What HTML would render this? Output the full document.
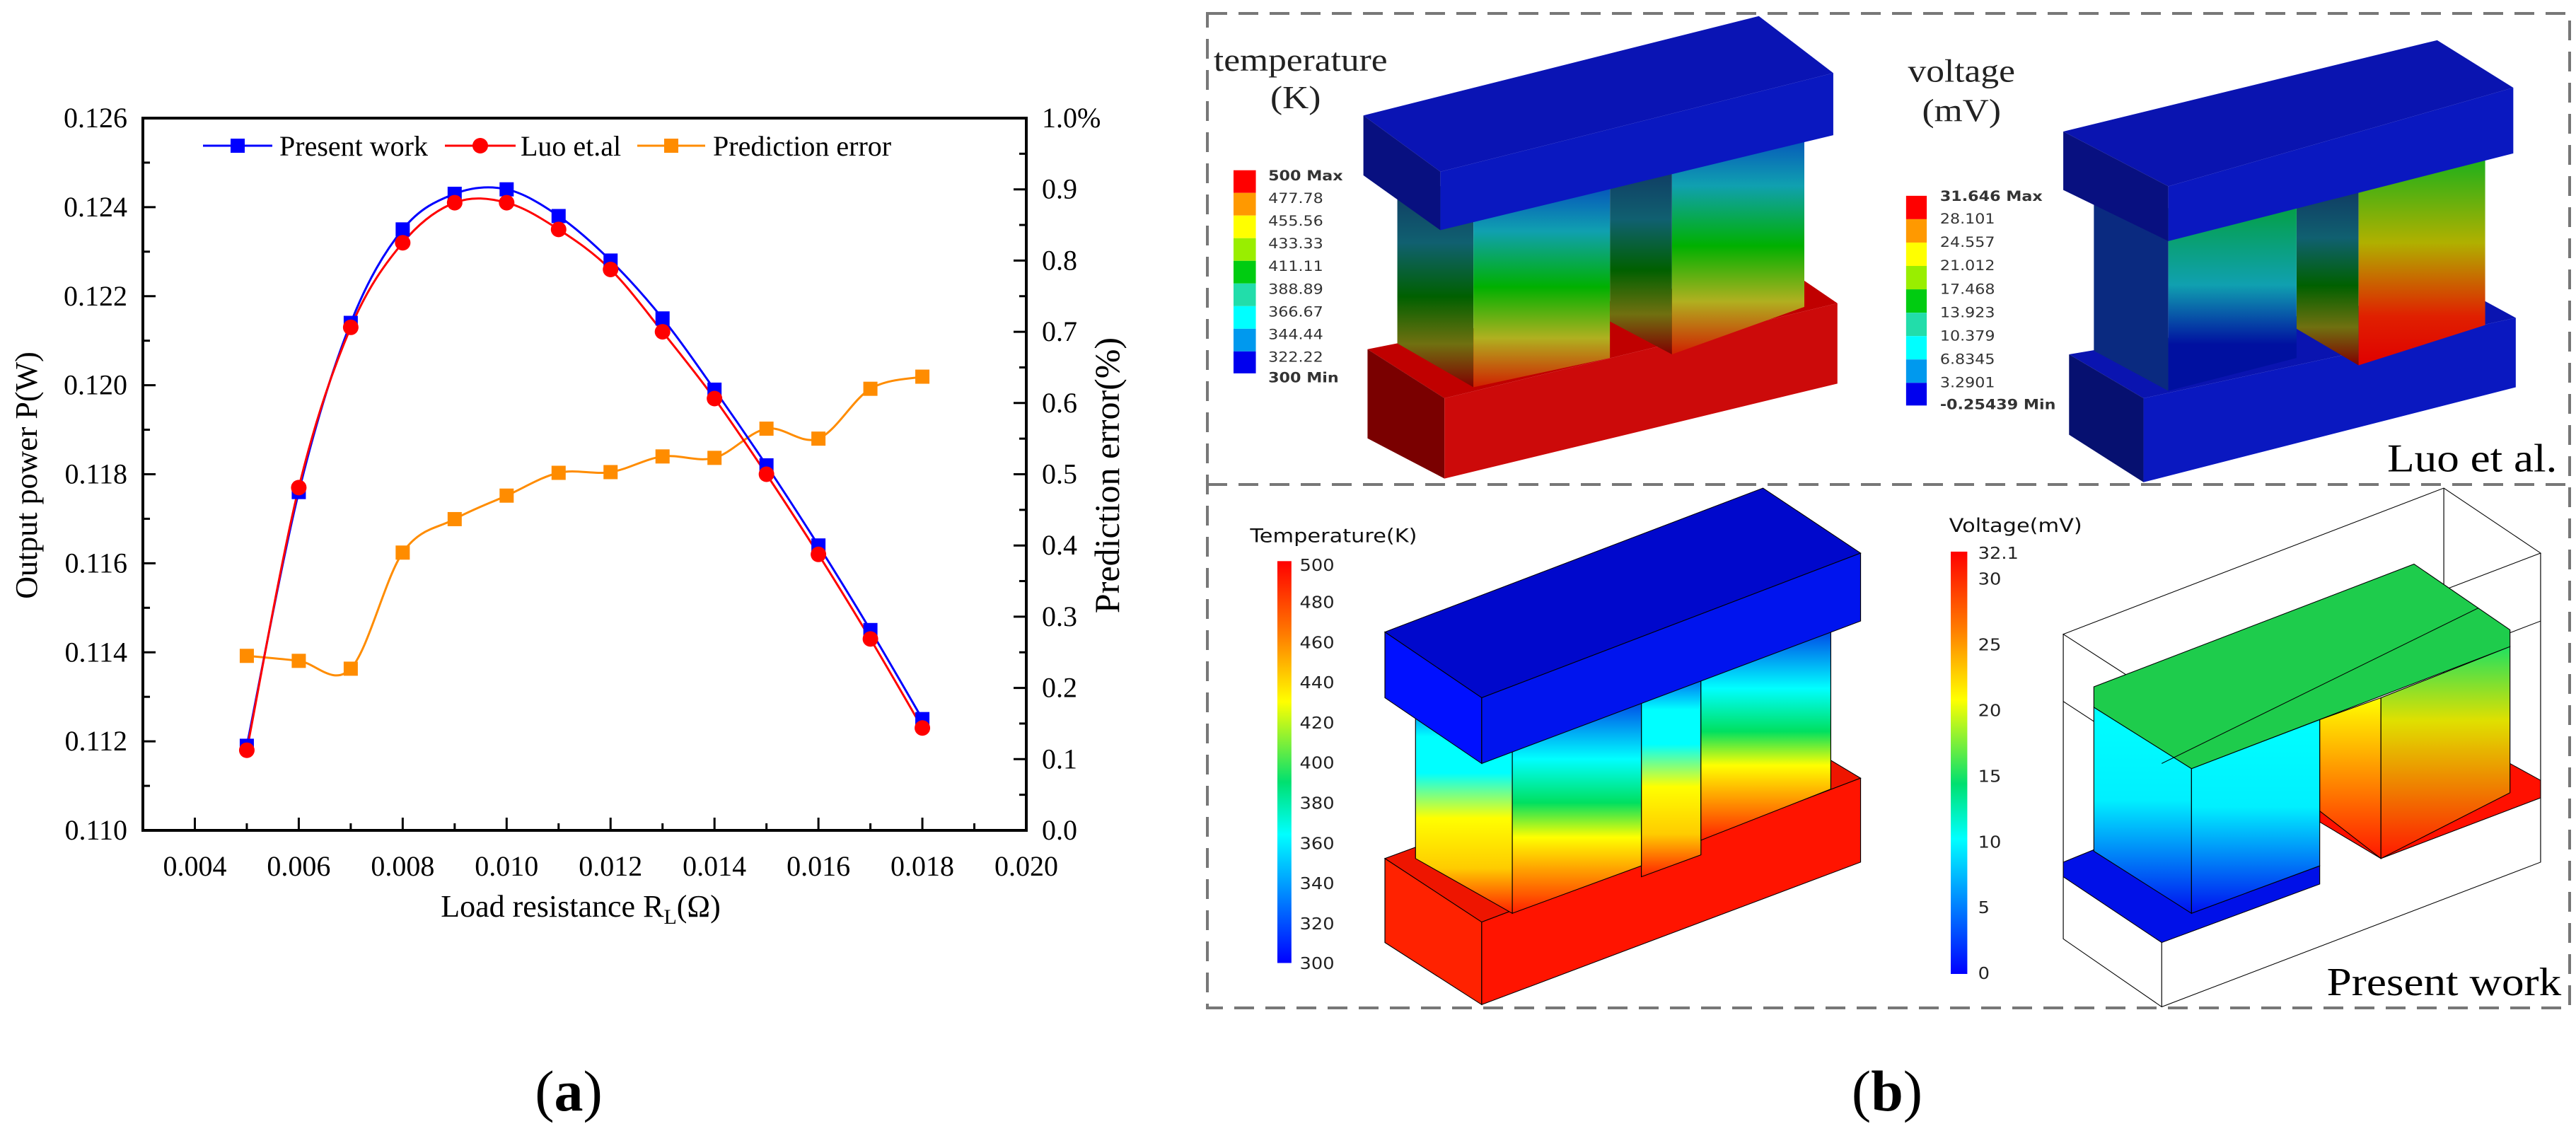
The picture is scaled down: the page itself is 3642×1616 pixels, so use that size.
<!DOCTYPE html>
<html><head><meta charset="utf-8"><style>
html,body{margin:0;padding:0;background:#fff;}
svg{display:block;}
.serif{font-family:"Liberation Serif",serif;}
.sans{font-family:"DejaVu Sans","Liberation Sans",sans-serif;}
</style></head><body>
<svg id="fig" width="3642" height="1616" viewBox="0 0 3642 1616" xmlns="http://www.w3.org/2000/svg">
<defs>
<linearGradient id="gJetT" x1="0" y1="0" x2="0" y2="1"><stop offset="0" stop-color="#ff0000"/><stop offset="0.18" stop-color="#ff7a00"/><stop offset="0.35" stop-color="#ffff00"/><stop offset="0.55" stop-color="#00e070"/><stop offset="0.68" stop-color="#00ffff"/><stop offset="0.84" stop-color="#0080ff"/><stop offset="1" stop-color="#0000ff"/></linearGradient>
<linearGradient id="gLegP" x1="0" y1="0" x2="0" y2="1"><stop offset="0" stop-color="#0022ee"/><stop offset="0.22" stop-color="#00ffff"/><stop offset="0.38" stop-color="#00ffff"/><stop offset="0.58" stop-color="#ffff00"/><stop offset="0.8" stop-color="#ffcc00"/><stop offset="1" stop-color="#ff2000"/></linearGradient>
<linearGradient id="gLegP2" x1="0" y1="0" x2="0" y2="1"><stop offset="0" stop-color="#0010e0"/><stop offset="0.33" stop-color="#00ffff"/><stop offset="0.52" stop-color="#00e060"/><stop offset="0.67" stop-color="#ffff00"/><stop offset="1" stop-color="#ff2000"/></linearGradient>
<linearGradient id="gLegL" x1="0" y1="0" x2="0" y2="1"><stop offset="0" stop-color="#0030c0"/><stop offset="0.3" stop-color="#10a0b0"/><stop offset="0.55" stop-color="#00b000"/><stop offset="0.78" stop-color="#b0b020"/><stop offset="1" stop-color="#d02000"/></linearGradient>
<linearGradient id="gLegLd" x1="0" y1="0" x2="0" y2="1"><stop offset="0" stop-color="#103060"/><stop offset="0.33" stop-color="#106070"/><stop offset="0.58" stop-color="#006000"/><stop offset="0.8" stop-color="#707010"/><stop offset="1" stop-color="#800000"/></linearGradient>
<linearGradient id="gVL" x1="0" y1="0" x2="0" y2="1"><stop offset="0" stop-color="#00a020"/><stop offset="0.5" stop-color="#10a0b0"/><stop offset="0.78" stop-color="#0010a0"/><stop offset="1" stop-color="#0010a0"/></linearGradient>
<linearGradient id="gVR" x1="0" y1="0" x2="0" y2="1"><stop offset="0" stop-color="#00b020"/><stop offset="0.45" stop-color="#b0b000"/><stop offset="0.78" stop-color="#e02000"/><stop offset="1" stop-color="#e00000"/></linearGradient>
<linearGradient id="gVPL" x1="0" y1="0" x2="0" y2="1"><stop offset="0" stop-color="#00ffff"/><stop offset="0.45" stop-color="#00f0ff"/><stop offset="1" stop-color="#0010f0"/></linearGradient>
<linearGradient id="gVPR" x1="0" y1="0" x2="0" y2="1"><stop offset="0" stop-color="#20e060"/><stop offset="0.35" stop-color="#e0e000"/><stop offset="1" stop-color="#ff1800"/></linearGradient>
<linearGradient id="gVPI" x1="0" y1="0" x2="0" y2="1"><stop offset="0" stop-color="#ffff00"/><stop offset="1" stop-color="#ff1800"/></linearGradient>
</defs>

<g id="chart"></g>
<text class="serif" x="804" y="1570" font-size="82" text-anchor="middle">(<tspan font-weight="bold">a</tspan>)</text>

<g>
<rect x="1707" y="19" width="1926" height="1406" fill="none" stroke="#777" stroke-width="4" stroke-dasharray="28,16"/>
<line x1="1707" y1="685" x2="3633" y2="685" stroke="#777" stroke-width="4" stroke-dasharray="28,16"/>
<g transform="matrix(1.1696,0,0,1.033,1820,0)">
 <g>
  <text class="serif" x="-89" y="97" font-size="44" fill="#222">temperature</text>
  <text class="serif" x="10" y="148" font-size="44" text-anchor="middle" fill="#222">(K)</text>
  <rect x="-65" y="233" width="27" height="31" fill="#ff0000"/><rect x="-65" y="264" width="27" height="31" fill="#ff9900"/>
  <rect x="-65" y="295" width="27" height="31" fill="#ffff00"/><rect x="-65" y="326" width="27" height="31" fill="#99ee00"/>
  <rect x="-65" y="357" width="27" height="31" fill="#00cc11"/><rect x="-65" y="388" width="27" height="31" fill="#22ddaa"/>
  <rect x="-65" y="419" width="27" height="31" fill="#00ffff"/><rect x="-65" y="450" width="27" height="31" fill="#0099ee"/>
  <rect x="-65" y="481" width="27" height="30" fill="#0000ee"/>
  <g class="sans" font-size="19" fill="#333">
   <text x="-23" y="247" font-weight="bold">500 Max</text><text x="-23" y="278">477.78</text><text x="-23" y="309">455.56</text><text x="-23" y="340">433.33</text><text x="-23" y="371">411.11</text><text x="-23" y="402">388.89</text><text x="-23" y="433">366.67</text><text x="-23" y="464">344.44</text><text x="-23" y="495">322.22</text><text x="-23" y="523" font-weight="bold">300 Min</text>
  </g>
 </g>
 <g>
  <polygon points="97,478 600,365 665,415 190,545" fill="#c00000"/>
  <polygon points="97,478 190,545 190,655 97,600" fill="#7a0000"/>
  <polygon points="190,545 665,415 665,525 190,655" fill="#cc0a0a"/>
  <polygon points="390,235 465,210 465,485 390,440" fill="url(#gLegLd)"/>
  <polygon points="465,210 625,155 625,420 465,485" fill="url(#gLegL)"/>
  <polygon points="133,235 225,270 225,530 133,470" fill="url(#gLegLd)"/>
  <polygon points="225,270 390,225 390,490 225,530" fill="url(#gLegL)"/>
  <polygon points="92,158 570,22 660,100 185,235" fill="#0a14b4"/>
  <polygon points="92,158 185,235 185,315 92,240" fill="#081080"/>
  <polygon points="185,235 660,100 660,185 185,315" fill="#0a18c0"/>
 </g>
 <g>
  <text class="serif" x="815" y="112" font-size="44" text-anchor="middle" fill="#222">voltage</text>
  <text class="serif" x="815" y="166" font-size="44" text-anchor="middle" fill="#222">(mV)</text>
  <rect x="748" y="268" width="25" height="32" fill="#ff0000"/><rect x="748" y="300" width="25" height="32" fill="#ff9900"/>
  <rect x="748" y="332" width="25" height="32" fill="#ffff00"/><rect x="748" y="364" width="25" height="32" fill="#99ee00"/>
  <rect x="748" y="396" width="25" height="32" fill="#00cc11"/><rect x="748" y="428" width="25" height="32" fill="#22ddaa"/>
  <rect x="748" y="460" width="25" height="32" fill="#00ffff"/><rect x="748" y="492" width="25" height="32" fill="#0099ee"/>
  <rect x="748" y="524" width="25" height="31" fill="#0000ee"/>
  <g class="sans" font-size="19" fill="#333">
   <text x="789" y="275" font-weight="bold">31.646 Max</text><text x="789" y="306">28.101</text><text x="789" y="338">24.557</text><text x="789" y="370">21.012</text><text x="789" y="402">17.468</text><text x="789" y="434">13.923</text><text x="789" y="466">10.379</text><text x="789" y="498">6.8345</text><text x="789" y="530">3.2901</text><text x="789" y="560" font-weight="bold">-0.25439 Min</text>
  </g>
 </g>
 <g>
  <polygon points="945,485 1420,395 1485,435 1035,545" fill="#0a14b0"/>
  <polygon points="945,485 1035,545 1035,660 945,595" fill="#061070"/>
  <polygon points="1035,545 1485,435 1485,530 1035,660" fill="#0a18c0"/>
  <polygon points="1220,260 1295,240 1295,500 1220,450" fill="url(#gLegLd)"/>
  <polygon points="1295,240 1448,195 1448,445 1295,500" fill="url(#gVR)"/>
  <polygon points="975,250 1065,285 1065,535 975,480" fill="#0a2a80"/>
  <polygon points="1065,285 1220,245 1220,490 1065,535" fill="url(#gVL)"/>
  <polygon points="938,180 1390,55 1482,120 1065,255" fill="#0a14b0"/>
  <polygon points="938,180 1065,255 1065,330 938,260" fill="#081080"/>
  <polygon points="1065,255 1482,120 1482,210 1065,330" fill="#0a18c0"/>
 </g>
 <text class="serif" x="1535" y="645" font-size="54" text-anchor="end" fill="#000">Luo et al.</text>

 <g>
  <text class="sans" x="-45" y="742" font-size="26" fill="#111">Temperature(K)</text>
  <rect x="-12" y="768" width="17" height="550" fill="url(#gJetT)"/>
  <g class="sans" font-size="22" fill="#222">
   <text x="15" y="781">500</text><text x="15" y="832">480</text><text x="15" y="887">460</text><text x="15" y="942">440</text><text x="15" y="997">420</text><text x="15" y="1052">400</text><text x="15" y="1107">380</text><text x="15" y="1162">360</text><text x="15" y="1217">340</text><text x="15" y="1272">320</text><text x="15" y="1326">300</text>
  </g>
 </g>
 <g stroke="#000" stroke-width="1">
  <polygon points="118,1175 575,985 693,1065 235,1262" fill="#ee1500"/>
  <polygon points="118,1175 235,1262 235,1375 118,1290" fill="#ff2200"/>
  <polygon points="235,1262 693,1065 693,1180 235,1375" fill="#ff1400"/>
  <polygon points="428,937 500,907 500,1170 428,1200" fill="url(#gLegP)"/>
  <polygon points="500,907 657,840 657,1080 500,1150" fill="url(#gLegP2)"/>
  <polygon points="155,940 272,1003 272,1250 155,1175" fill="url(#gLegP)"/>
  <polygon points="272,1003 428,935 428,1185 272,1250" fill="url(#gLegP2)"/>
  <polygon points="118,865 575,668 693,757 235,955" fill="#0008cc"/>
  <polygon points="118,865 235,955 235,1045 118,955" fill="#0010ff"/>
  <polygon points="235,955 693,757 693,850 235,1045" fill="#0014ee"/>
 </g>
 <g>
  <text class="sans" x="800" y="728" font-size="26" fill="#111">Voltage(mV)</text>
  <rect x="802" y="755" width="20" height="578" fill="url(#gJetT)"/>
  <g class="sans" font-size="22" fill="#222">
   <text x="835" y="765">32.1</text><text x="835" y="800">30</text><text x="835" y="890">25</text><text x="835" y="980">20</text><text x="835" y="1070">15</text><text x="835" y="1160">10</text><text x="835" y="1250">5</text><text x="835" y="1340">0</text>
  </g>
 </g>
 <g stroke="#000" stroke-width="1">
  <polygon points="938,868 1398,668 1515,757 1057,955" fill="none"/>
  <polyline points="938,868 938,1285 1057,1378 1515,1180 1515,757" fill="none"/>
  <line x1="1057" y1="955" x2="1057" y2="1378"/>
  <line x1="1398" y1="668" x2="1398" y2="1090"/>
  <polyline points="938,960 1057,1048 1515,850" fill="none"/>
  <polygon points="1248,1100 1322,1150 1478,1045 1515,1068 1515,1092 1322,1175 1248,1125" fill="#ff1000"/>
  <polygon points="1248,985 1322,955 1322,1175 1248,1110" fill="url(#gVPI)"/>
  <polygon points="1322,955 1478,885 1478,1085 1322,1175" fill="url(#gVPR)"/>
  <polygon points="938,1180 975,1163 1093,1250 1248,1185 1248,1210 1057,1290 938,1200" fill="#0010e8"/>
  <polygon points="975,968 1093,1052 1093,1250 975,1165" fill="url(#gVPL)"/>
  <polygon points="1093,1052 1248,985 1248,1185 1093,1250" fill="url(#gVPL)"/>
  <polygon points="975,940 1362,772 1478,862 1478,885 1093,1052 975,968" fill="#1ecc4c"/>
  <line x1="1057" y1="1045" x2="1440" y2="832"/>
 </g>
 <text class="serif" x="1540" y="1362" font-size="54" text-anchor="end" fill="#000">Present work</text>
</g>
<text class="serif" x="2668" y="1570" font-size="82" text-anchor="middle">(<tspan font-weight="bold">b</tspan>)</text>
</g>
</svg>
<script>
const xValues = [0.005,0.006,0.007,0.008,0.009,0.010,0.011,0.012,0.013,0.014,0.015,0.016,0.017,0.018];
const presentWork = [0.1119,0.1176,0.1214,0.1235,0.1243,0.1244,0.1238,0.1228,0.1215,0.1199,0.1182,0.1164,0.1145,0.1125];
const luoEtAl = [0.1118,0.1177,0.1213,0.1232,0.1241,0.1241,0.1235,0.1226,0.1212,0.1197,0.1180,0.1162,0.1143,0.1123];
const predError = [0.245,0.238,0.227,0.390,0.437,0.470,0.502,0.503,0.525,0.523,0.564,0.550,0.620,0.637];
const xTickLabels = ["0.004","0.006","0.008","0.010","0.012","0.014","0.016","0.018","0.020"];
const yTickLabels = ["0.110","0.112","0.114","0.116","0.118","0.120","0.122","0.124","0.126"];
const y2TickLabels = ["0.0","0.1","0.2","0.3","0.4","0.5","0.6","0.7","0.8","0.9","1.0%"];

const NS="http://www.w3.org/2000/svg";
const L=202,R=1451,T=167,B=1174;
const xs=v=>L+(v-0.003)/(0.020-0.003)*(R-L);
const ys=v=>B-(v-0.110)/(0.126-0.110)*(B-T);
const ys2=v=>B-v/1.0*(B-T);
const g=document.getElementById('chart');
function mk(tag,attrs,parent){const e=document.createElementNS(NS,tag);for(const k in attrs)e.setAttribute(k,attrs[k]);(parent||g).appendChild(e);return e;}
function spline(pts){let d=`M${pts[0][0]},${pts[0][1]}`;for(let i=0;i<pts.length-1;i++){const p0=pts[i-1]||pts[i],p1=pts[i],p2=pts[i+1],p3=pts[i+2]||p2;const c1=[p1[0]+(p2[0]-p0[0])/6,p1[1]+(p2[1]-p0[1])/6],c2=[p2[0]-(p3[0]-p1[0])/6,p2[1]-(p3[1]-p1[1])/6];d+=` C${c1[0]},${c1[1]} ${c2[0]},${c2[1]} ${p2[0]},${p2[1]}`;}return d;}

const frame=mk('rect',{x:L,y:T,width:R-L,height:B-T,fill:'none',stroke:'#000','stroke-width':4});


for(let k=0;k<17;k++){const v=0.004+k*0.001;if(v>0.0201)break;const x=xs(v);const major=(k%2===0);
 const t=mk('line',{x1:x,y1:B,x2:x,y2:B-(major?18:10),stroke:'#000','stroke-width':3});
 
 }
xTickLabels.forEach((s,i)=>{const v=0.004+i*0.002;const t=mk('text',{x:xs(v),y:1238,'font-size':40,'text-anchor':'middle','font-family':'Liberation Serif, serif'});t.textContent=s;
 
 });
for(let k=0;k<=16;k++){const v=0.110+k*0.001;const y=ys(v);const major=(k%2===0);
 const t=mk('line',{x1:L,y1:y,x2:L+(major?18:10),y2:y,stroke:'#000','stroke-width':3});
 
 }
yTickLabels.forEach((s,i)=>{const v=0.110+i*0.002;const t=mk('text',{x:180,y:ys(v)+13,'font-size':40,'text-anchor':'end','font-family':'Liberation Serif, serif'});t.textContent=s;
 
 });
for(let k=0;k<=20;k++){const v=k*0.05;const y=ys2(v);const major=(k%2===0);
 const t=mk('line',{x1:R,y1:y,x2:R-(major?18:10),y2:y,stroke:'#000','stroke-width':3});
 
 }
y2TickLabels.forEach((s,i)=>{const v=i*0.1;const t=mk('text',{x:1473,y:ys2(v)+13,'font-size':40,'font-family':'Liberation Serif, serif'});t.textContent=s;
 
 });
const xt=mk('text',{x:821,y:1296,'font-size':44,'text-anchor':'middle','font-family':'Liberation Serif, serif'});
xt.innerHTML='Load resistance R<tspan font-size="30" dy="10">L</tspan><tspan dy="-10">(Ω)</tspan>';


const yt=mk('text',{x:0,y:0,'font-size':44,'text-anchor':'middle','font-family':'Liberation Serif, serif',transform:'translate(52,672) rotate(-90)'});
yt.textContent='Output power P(W)';


const y2t=mk('text',{x:0,y:0,'font-size':50,'text-anchor':'middle','font-family':'Liberation Serif, serif',transform:'translate(1582,672) rotate(-90)'});
y2t.textContent='Prediction error(%)';



const errPts=xValues.map((x,i)=>[xs(x),ys2(predError[i])]);
const pwPts=xValues.map((x,i)=>[xs(x),ys(presentWork[i])]);
const luoPts=xValues.map((x,i)=>[xs(x),ys(luoEtAl[i])]);
const eL=mk('path',{d:spline(errPts),fill:'none',stroke:'#ff8c00','stroke-width':3});


const pL=mk('path',{d:spline(pwPts),fill:'none',stroke:'#0000ff','stroke-width':3});


const lL=mk('path',{d:spline(luoPts),fill:'none',stroke:'#ff0000','stroke-width':3});


errPts.forEach(p=>{const m=mk('rect',{x:p[0]-10,y:p[1]-10,width:20,height:20,fill:'#ff8c00'});
 
 });
pwPts.forEach(p=>{const m=mk('rect',{x:p[0]-10,y:p[1]-10,width:20,height:20,fill:'#0000ff'});
 
 });
luoPts.forEach(p=>{const m=mk('circle',{cx:p[0],cy:p[1],r:11,fill:'#ff0000'});
 
 });

const leg=[['Present work','#0000ff','sq',287,385,395],['Luo et.al','#ff0000','ci',629,729,736],['Prediction error','#ff8c00','sq',901,997,1008]];
leg.forEach(l=>{const ly=206;
 const ln=mk('line',{x1:l[3],y1:ly,x2:l[4],y2:ly,stroke:l[1],'stroke-width':3});
 
 
 const cx=(l[3]+l[4])/2;
 const mkr=l[2]==='sq'?mk('rect',{x:cx-10,y:ly-10,width:20,height:20,fill:l[1]}):mk('circle',{cx:cx,cy:ly,r:11,fill:l[1]});
 
 
 const t=mk('text',{x:l[5],y:ly+14,'font-size':40,'font-family':'Liberation Serif, serif'});t.textContent=l[0];
 
 });
</script>
</body></html>
